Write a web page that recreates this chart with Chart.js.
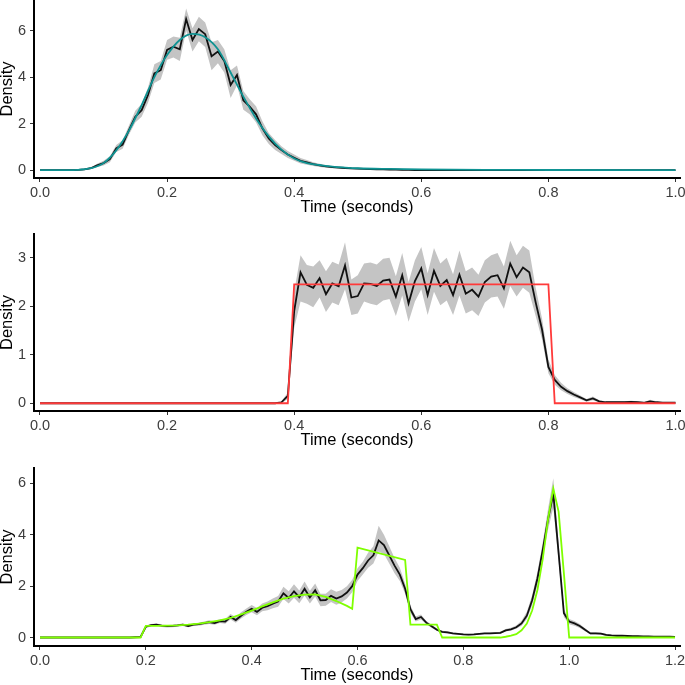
<!DOCTYPE html>
<html>
<head>
<meta charset="utf-8">
<script src="https://cdn.jsdelivr.net/npm/chart.js@4.4.1/dist/chart.umd.min.js"></script>
<style>
  body { margin: 0; background: #fff; }
  canvas { position: absolute; left: 0; }
</style>
</head>
<body>
<canvas id="panel1" width="685" height="228" style="top:0px"></canvas>
<canvas id="panel2" width="685" height="228" style="top:228px"></canvas>
<canvas id="panel3" width="685" height="229" style="top:456px"></canvas>
<script>
// time bins (seconds)
const timeGrid = [
  0, 0.01, 0.02, 0.03, 0.04, 0.05, 0.06, 0.07, 0.08, 0.09,
  0.1, 0.11, 0.12, 0.13, 0.14, 0.15, 0.16, 0.17, 0.18, 0.19,
  0.2, 0.21, 0.22, 0.23, 0.24, 0.25, 0.26, 0.27, 0.28, 0.29,
  0.3, 0.31, 0.32, 0.33, 0.34, 0.35, 0.36, 0.37, 0.38, 0.39,
  0.4, 0.41, 0.42, 0.43, 0.44, 0.45, 0.46, 0.47, 0.48, 0.49,
  0.5, 0.51, 0.52, 0.53, 0.54, 0.55, 0.56, 0.57, 0.58, 0.59,
  0.6, 0.61, 0.62, 0.63, 0.64, 0.65, 0.66, 0.67, 0.68, 0.69,
  0.7, 0.71, 0.72, 0.73, 0.74, 0.75, 0.76, 0.77, 0.78, 0.79,
  0.8, 0.81, 0.82, 0.83, 0.84, 0.85, 0.86, 0.87, 0.88, 0.89,
  0.9, 0.91, 0.92, 0.93, 0.94, 0.95, 0.96, 0.97, 0.98, 0.99,
  1.0, 1.01, 1.02, 1.03, 1.04, 1.05, 1.06, 1.07, 1.08, 1.09,
  1.1, 1.11, 1.12, 1.13, 1.14, 1.15, 1.16, 1.17, 1.18, 1.19,
  1.2
];
const time1 = timeGrid.slice(0, 101);
const time3 = timeGrid;

const xTicks1 = [0, 0.2, 0.4, 0.6, 0.8, 1.0];
const xTicks3 = [0, 0.2, 0.4, 0.6, 0.8, 1.0, 1.2];
const yTicks1 = [0, 2, 4, 6];
const yTicks2 = [0, 1, 2, 3];
const yTicks3 = [0, 2, 4, 6];

// panel 1
const emp1 = [
  0, 0, 0, 0, 0, 0, 0.01, 0.03, 0.08, 0.2,
  0.3, 0.47, 0.93, 1.1, 1.72, 2.3, 2.58, 3.23, 4.16, 4.3,
  5.17, 5.31, 5.2, 6.5, 5.6, 6.07, 5.85, 4.9, 5.1, 4.7,
  3.66, 4.09, 3.0, 2.73, 2.4, 1.8, 1.36, 1.08, 0.86, 0.67,
  0.53, 0.4, 0.33, 0.26, 0.2, 0.16, 0.13, 0.11, 0.09, 0.07,
  0.06, 0.05, 0.04, 0.03, 0.03, 0.02, 0.02, 0.01, 0.01, 0,
  0, 0, 0, 0, 0, 0, 0, 0, 0, 0,
  0, 0, 0, 0, 0, 0, 0, 0, 0, 0,
  0, 0, 0, 0, 0, 0, 0, 0, 0, 0,
  0, 0, 0, 0, 0, 0, 0, 0, 0, 0,
  0
];
const hi1 = [
  0, 0, 0, 0, 0, 0, 0.02, 0.05, 0.12, 0.27,
  0.4, 0.6, 1.08, 1.28, 1.92, 2.55, 2.85, 3.55, 4.55, 4.7,
  5.6, 5.75, 5.7, 6.95, 6.1, 6.6, 6.35, 5.5, 5.6, 5.2,
  4.3, 4.5, 3.4, 3.05, 2.75, 2.1, 1.6, 1.3, 1.03, 0.82,
  0.67, 0.52, 0.43, 0.34, 0.27, 0.22, 0.18, 0.15, 0.12, 0.1,
  0.08, 0.07, 0.06, 0.05, 0.04, 0.03, 0.03, 0.02, 0.02, 0.01,
  0, 0, 0, 0, 0, 0, 0, 0, 0, 0,
  0, 0, 0, 0, 0, 0, 0, 0, 0, 0,
  0, 0, 0, 0, 0, 0, 0, 0, 0, 0,
  0, 0, 0, 0, 0, 0, 0, 0, 0, 0,
  0
];
const lo1 = [
  0, 0, 0, 0, 0, 0, 0, 0.01, 0.04, 0.13,
  0.2, 0.34, 0.78, 0.92, 1.52, 2.05, 2.3, 2.9, 3.75, 3.9,
  4.75, 4.85, 4.7, 6.0, 5.1, 5.55, 5.3, 4.3, 4.6, 4.2,
  3.1, 3.65, 2.6, 2.4, 2.05, 1.5, 1.12, 0.86, 0.69, 0.52,
  0.4, 0.28, 0.23, 0.18, 0.13, 0.1, 0.08, 0.07, 0.06, 0.04,
  0.04, 0.03, 0.02, 0.01, 0.01, 0.01, 0.01, 0, 0, 0,
  0, 0, 0, 0, 0, 0, 0, 0, 0, 0,
  0, 0, 0, 0, 0, 0, 0, 0, 0, 0,
  0, 0, 0, 0, 0, 0, 0, 0, 0, 0,
  0, 0, 0, 0, 0, 0, 0, 0, 0, 0,
  0
];
const fitTime1 = [0, 0.04, 0.06, 0.08, 0.1, 0.12, 0.14, 0.16, 0.18, 0.2, 0.22, 0.24, 0.26, 0.28, 0.3,
  0.32, 0.34, 0.36, 0.38, 0.4, 0.42, 0.44, 0.46, 0.48, 0.5, 0.55, 0.6, 0.7, 0.8, 1.0];
const fit1 = [0, 0, 0.01, 0.08, 0.3, 0.85, 1.7, 2.8, 4.0, 4.95, 5.6, 5.86, 5.72, 5.2, 4.2,
  3.16, 2.22, 1.45, 0.88, 0.5, 0.3, 0.22, 0.15, 0.11, 0.08, 0.05, 0.03, 0.01, 0.005, 0];

// panel 2
const emp2 = [
  0, 0, 0, 0, 0, 0, 0, 0, 0, 0,
  0, 0, 0, 0, 0, 0, 0, 0, 0, 0,
  0, 0, 0, 0, 0, 0, 0, 0, 0, 0,
  0, 0, 0, 0, 0, 0, 0, 0, 0.02, 0.15,
  1.9, 2.7, 2.44, 2.38, 2.58, 2.25, 2.47, 2.41, 2.84, 2.18,
  2.21, 2.47, 2.46, 2.42, 2.53, 2.55, 2.2, 2.64, 2.06, 2.52,
  2.78, 2.23, 2.73, 2.42, 2.54, 2.23, 2.65, 2.26, 2.34, 2.2,
  2.5, 2.61, 2.64, 2.37, 2.88, 2.6, 2.8, 2.7, 2.08, 1.52,
  0.75, 0.48, 0.34, 0.25, 0.18, 0.12, 0.06, 0.1, 0.04, 0.02,
  0.02, 0.02, 0.02, 0.03, 0.02, 0.01, 0.04, 0.02, 0.01, 0.01,
  0.01
];
const hi2 = [
  0, 0, 0, 0, 0, 0, 0, 0, 0, 0,
  0, 0, 0, 0, 0, 0, 0, 0, 0, 0,
  0, 0, 0, 0, 0, 0, 0, 0, 0, 0,
  0, 0, 0, 0, 0, 0, 0, 0, 0.04, 0.22,
  2.3, 3.05, 2.85, 2.82, 2.95, 2.72, 2.92, 2.86, 3.32, 2.55,
  2.64, 2.88, 2.9, 2.86, 2.98, 3.0, 2.62, 3.1, 2.5, 2.95,
  3.22, 2.68, 3.2, 2.88, 3.0, 2.66, 3.15, 2.72, 2.8, 2.65,
  2.95, 3.05, 3.1, 2.82, 3.35, 3.05, 3.25, 3.15, 2.38, 1.75,
  0.9, 0.58, 0.42, 0.31, 0.23, 0.16, 0.09, 0.14, 0.06, 0.04,
  0.04, 0.04, 0.04, 0.05, 0.04, 0.02, 0.07, 0.04, 0.02, 0.02,
  0.02
];
const lo2 = [
  0, 0, 0, 0, 0, 0, 0, 0, 0, 0,
  0, 0, 0, 0, 0, 0, 0, 0, 0, 0,
  0, 0, 0, 0, 0, 0, 0, 0, 0, 0,
  0, 0, 0, 0, 0, 0, 0, 0, 0, 0.09,
  1.55, 2.1, 2.05, 1.98, 2.18, 1.88, 2.08, 2.02, 2.35, 1.82,
  1.85, 2.1, 2.05, 2.02, 2.12, 2.15, 1.8, 2.22, 1.68, 2.1,
  2.35, 1.82, 2.3, 2.02, 2.12, 1.82, 2.22, 1.85, 1.92, 1.8,
  2.08, 2.18, 2.2, 1.95, 2.42, 2.2, 2.38, 2.28, 1.8, 1.32,
  0.62, 0.38, 0.27, 0.19, 0.13, 0.08, 0.03, 0.06, 0.02, 0.01,
  0.01, 0.01, 0.01, 0.01, 0.01, 0, 0.02, 0.01, 0, 0,
  0
];
const fitTime2 = [0, 0.39, 0.4, 0.8, 0.81, 1.0];
const fit2 = [0, 0, 2.45, 2.45, 0, 0];

// panel 3
const emp3 = [
  0, 0, 0, 0, 0, 0, 0, 0, 0, 0,
  0, 0, 0, 0, 0, 0, 0, 0, 0.01, 0.02,
  0.42, 0.48, 0.5, 0.46, 0.44, 0.45, 0.47, 0.5, 0.45, 0.5,
  0.52, 0.56, 0.6, 0.56, 0.64, 0.62, 0.8, 0.68, 0.85, 1.0,
  1.12, 1.0, 1.16, 1.22, 1.32, 1.4, 1.72, 1.54, 1.8, 1.57,
  1.9, 1.56, 1.84, 1.45, 1.46, 1.62, 1.52, 1.6, 1.75, 2.0,
  2.45, 2.7, 3.0, 3.2, 3.78, 3.6, 3.2, 2.8, 2.45, 1.9,
  1.1, 0.72, 0.8, 0.58, 0.44, 0.3, 0.22, 0.2, 0.16, 0.14,
  0.12, 0.11, 0.12, 0.14, 0.16, 0.16, 0.17, 0.18, 0.28, 0.32,
  0.4, 0.55, 0.85, 1.45, 2.3, 3.4, 4.6, 5.6, 3.3, 0.95,
  0.62, 0.55, 0.45, 0.3, 0.16, 0.16, 0.15, 0.1, 0.08, 0.07,
  0.07, 0.06, 0.05, 0.05, 0.04, 0.04, 0.03, 0.03, 0.03, 0.03,
  0.02
];
const hi3 = [
  0, 0, 0, 0, 0, 0, 0, 0, 0, 0,
  0, 0, 0, 0, 0, 0, 0, 0, 0.02, 0.04,
  0.47, 0.53, 0.55, 0.51, 0.49, 0.5, 0.52, 0.55, 0.5, 0.56,
  0.58, 0.62, 0.67, 0.63, 0.72, 0.72, 0.92, 0.8, 0.98, 1.13,
  1.27, 1.15, 1.32, 1.4, 1.52, 1.62, 1.98, 1.8, 2.07, 1.83,
  2.18, 1.82, 2.1, 1.7, 1.7, 1.88, 1.78, 1.85, 2.0, 2.25,
  2.7, 2.95, 3.3, 3.55, 4.35, 4.0, 3.55, 3.1, 2.72, 2.1,
  1.25, 0.82, 0.9, 0.64, 0.5, 0.35, 0.26, 0.24, 0.2, 0.17,
  0.15, 0.14, 0.15, 0.17, 0.19, 0.19, 0.2, 0.22, 0.33, 0.38,
  0.47, 0.65, 1.0, 1.65, 2.55, 3.7, 5.0, 6.2, 3.65, 1.1,
  0.72, 0.64, 0.53, 0.36, 0.2, 0.2, 0.19, 0.13, 0.1, 0.09,
  0.09, 0.08, 0.07, 0.07, 0.05, 0.05, 0.04, 0.04, 0.04, 0.04,
  0.03
];
const lo3 = [
  0, 0, 0, 0, 0, 0, 0, 0, 0, 0,
  0, 0, 0, 0, 0, 0, 0, 0, 0, 0.01,
  0.37, 0.43, 0.45, 0.41, 0.39, 0.4, 0.42, 0.45, 0.4, 0.45,
  0.46, 0.5, 0.53, 0.5, 0.57, 0.54, 0.7, 0.58, 0.74, 0.88,
  0.98, 0.87, 1.02, 1.06, 1.14, 1.2, 1.5, 1.32, 1.55, 1.33,
  1.64, 1.32, 1.6, 1.22, 1.24, 1.38, 1.28, 1.36, 1.52, 1.76,
  2.2, 2.45, 2.72, 2.88, 3.35, 3.25, 2.88, 2.5, 2.2, 1.7,
  0.95, 0.62, 0.7, 0.52, 0.38, 0.25, 0.18, 0.16, 0.13, 0.11,
  0.09, 0.08, 0.09, 0.11, 0.13, 0.13, 0.14, 0.15, 0.23, 0.27,
  0.34, 0.46, 0.72, 1.25, 2.05, 3.1, 4.2, 5.05, 2.95, 0.8,
  0.52, 0.46, 0.37, 0.24, 0.12, 0.12, 0.11, 0.07, 0.06, 0.05,
  0.05, 0.04, 0.03, 0.03, 0.03, 0.03, 0.02, 0.02, 0.02, 0.02,
  0.01
];
const fitTime3 = [0, 0.19, 0.2, 0.22, 0.24, 0.26, 0.28, 0.3, 0.32, 0.34, 0.36, 0.38, 0.4, 0.42, 0.44,
  0.46, 0.48, 0.5, 0.52, 0.54, 0.56, 0.58, 0.59, 0.6, 0.69, 0.7, 0.75, 0.76, 0.87, 0.88, 0.89, 0.9,
  0.91, 0.92, 0.93, 0.94, 0.95, 0.96, 0.97, 0.98, 0.99, 1.0, 1.2];
const fit3 = [0, 0, 0.45, 0.45, 0.46, 0.47, 0.5, 0.54, 0.6, 0.67, 0.76, 0.9, 1.05, 1.21, 1.37,
  1.51, 1.61, 1.67, 1.68, 1.58, 1.42, 1.23, 1.12, 3.5, 3.02, 0.5, 0.5, 0, 0, 0.03, 0.07, 0.13,
  0.28, 0.54, 1.05, 1.85, 3.05, 4.6, 5.8, 4.9, 2.5, 0, 0];

Chart.defaults.font.family = "'Liberation Sans', Arial, sans-serif";

function pts(xs, ys) {
  return xs.map((x, i) => ({ x: x, y: ys[i] }));
}

function densityPanel(id, p) {
  new Chart(document.getElementById(id), {
    type: 'line',
    data: {
      datasets: [
        { data: pts(p.fitT, p.fit), borderColor: p.fitColor, borderWidth: 1.8,
          cubicInterpolationMode: p.smooth ? 'monotone' : 'default', fill: false },
        { data: pts(p.t, p.emp), borderColor: '#111111', borderWidth: 1.8, fill: false },
        { data: pts(p.t, p.hi), borderWidth: 0, borderColor: 'rgba(0,0,0,0)',
          backgroundColor: '#c4c4c4', fill: '+1' },
        { data: pts(p.t, p.lo), borderWidth: 0, borderColor: 'rgba(0,0,0,0)', fill: false }
      ]
    },
    options: {
      responsive: false,
      animation: false,
      devicePixelRatio: 1,
      layout: { autoPadding: false, padding: { top: p.padTop, bottom: p.padBottom, left: 0, right: 5 } },
      plugins: { legend: { display: false }, tooltip: { enabled: false } },
      elements: { point: { radius: 0 }, line: { tension: 0 } },
      scales: {
        x: {
          type: 'linear', min: p.xMin, max: p.xMax,
          afterBuildTicks: s => { s.ticks = p.xTicks.map(v => ({ value: v })); },
          afterFit: s => { s.height = 39; s.paddingLeft = 0; s.paddingRight = 0; },
          ticks: { callback: v => v.toFixed(1), color: '#3d3d3d', font: { size: 14.5 },
                   padding: 2, maxRotation: 0, autoSkip: false },
          grid: { drawOnChartArea: false, tickLength: 4, color: '#333333' },
          border: { color: '#000000', width: 2 },
          title: { display: true, text: 'Time (seconds)', color: '#000000', font: { size: 16.5 }, padding: 0 }
        },
        y: {
          min: p.yMin, max: p.yMax,
          afterBuildTicks: s => { s.ticks = p.yTicks.map(v => ({ value: v })); },
          afterFit: s => { s.width = 34; s.paddingTop = 0; s.paddingBottom = 0; },
          ticks: { callback: v => String(v), color: '#3d3d3d', font: { size: 14.5 }, padding: 4 },
          grid: { drawOnChartArea: false, tickLength: 4, color: '#333333' },
          border: { color: '#000000', width: 2 },
          title: { display: true, text: 'Density', color: '#000000', font: { size: 16.5 },
                   padding: { top: -2, bottom: 0 } }
        }
      }
    }
  });
}

densityPanel('panel1', {
  t: time1, emp: emp1, hi: hi1, lo: lo1, fitT: fitTime1, fit: fit1, fitColor: '#0f9393', smooth: true,
  xMin: -0.0094, xMax: 1.0071, xTicks: xTicks1, yMin: -0.34, yMax: 7.32, yTicks: yTicks1,
  padTop: 0, padBottom: 11
});
densityPanel('panel2', {
  t: time1, emp: emp2, hi: hi2, lo: lo2, fitT: fitTime2, fit: fit2, fitColor: '#ff3a3a', smooth: false,
  xMin: -0.0094, xMax: 1.0071, xTicks: xTicks1, yMin: -0.16, yMax: 3.49, yTicks: yTicks2,
  padTop: 6, padBottom: 6
});
densityPanel('panel3', {
  t: time3, emp: emp3, hi: hi3, lo: lo3, fitT: fitTime3, fit: fit3, fitColor: '#7fff00', smooth: false,
  xMin: -0.0113, xMax: 1.2094, xTicks: xTicks3, yMin: -0.33, yMax: 6.6, yTicks: yTicks3,
  padTop: 12, padBottom: 0
});
</script>
</body>
</html>
